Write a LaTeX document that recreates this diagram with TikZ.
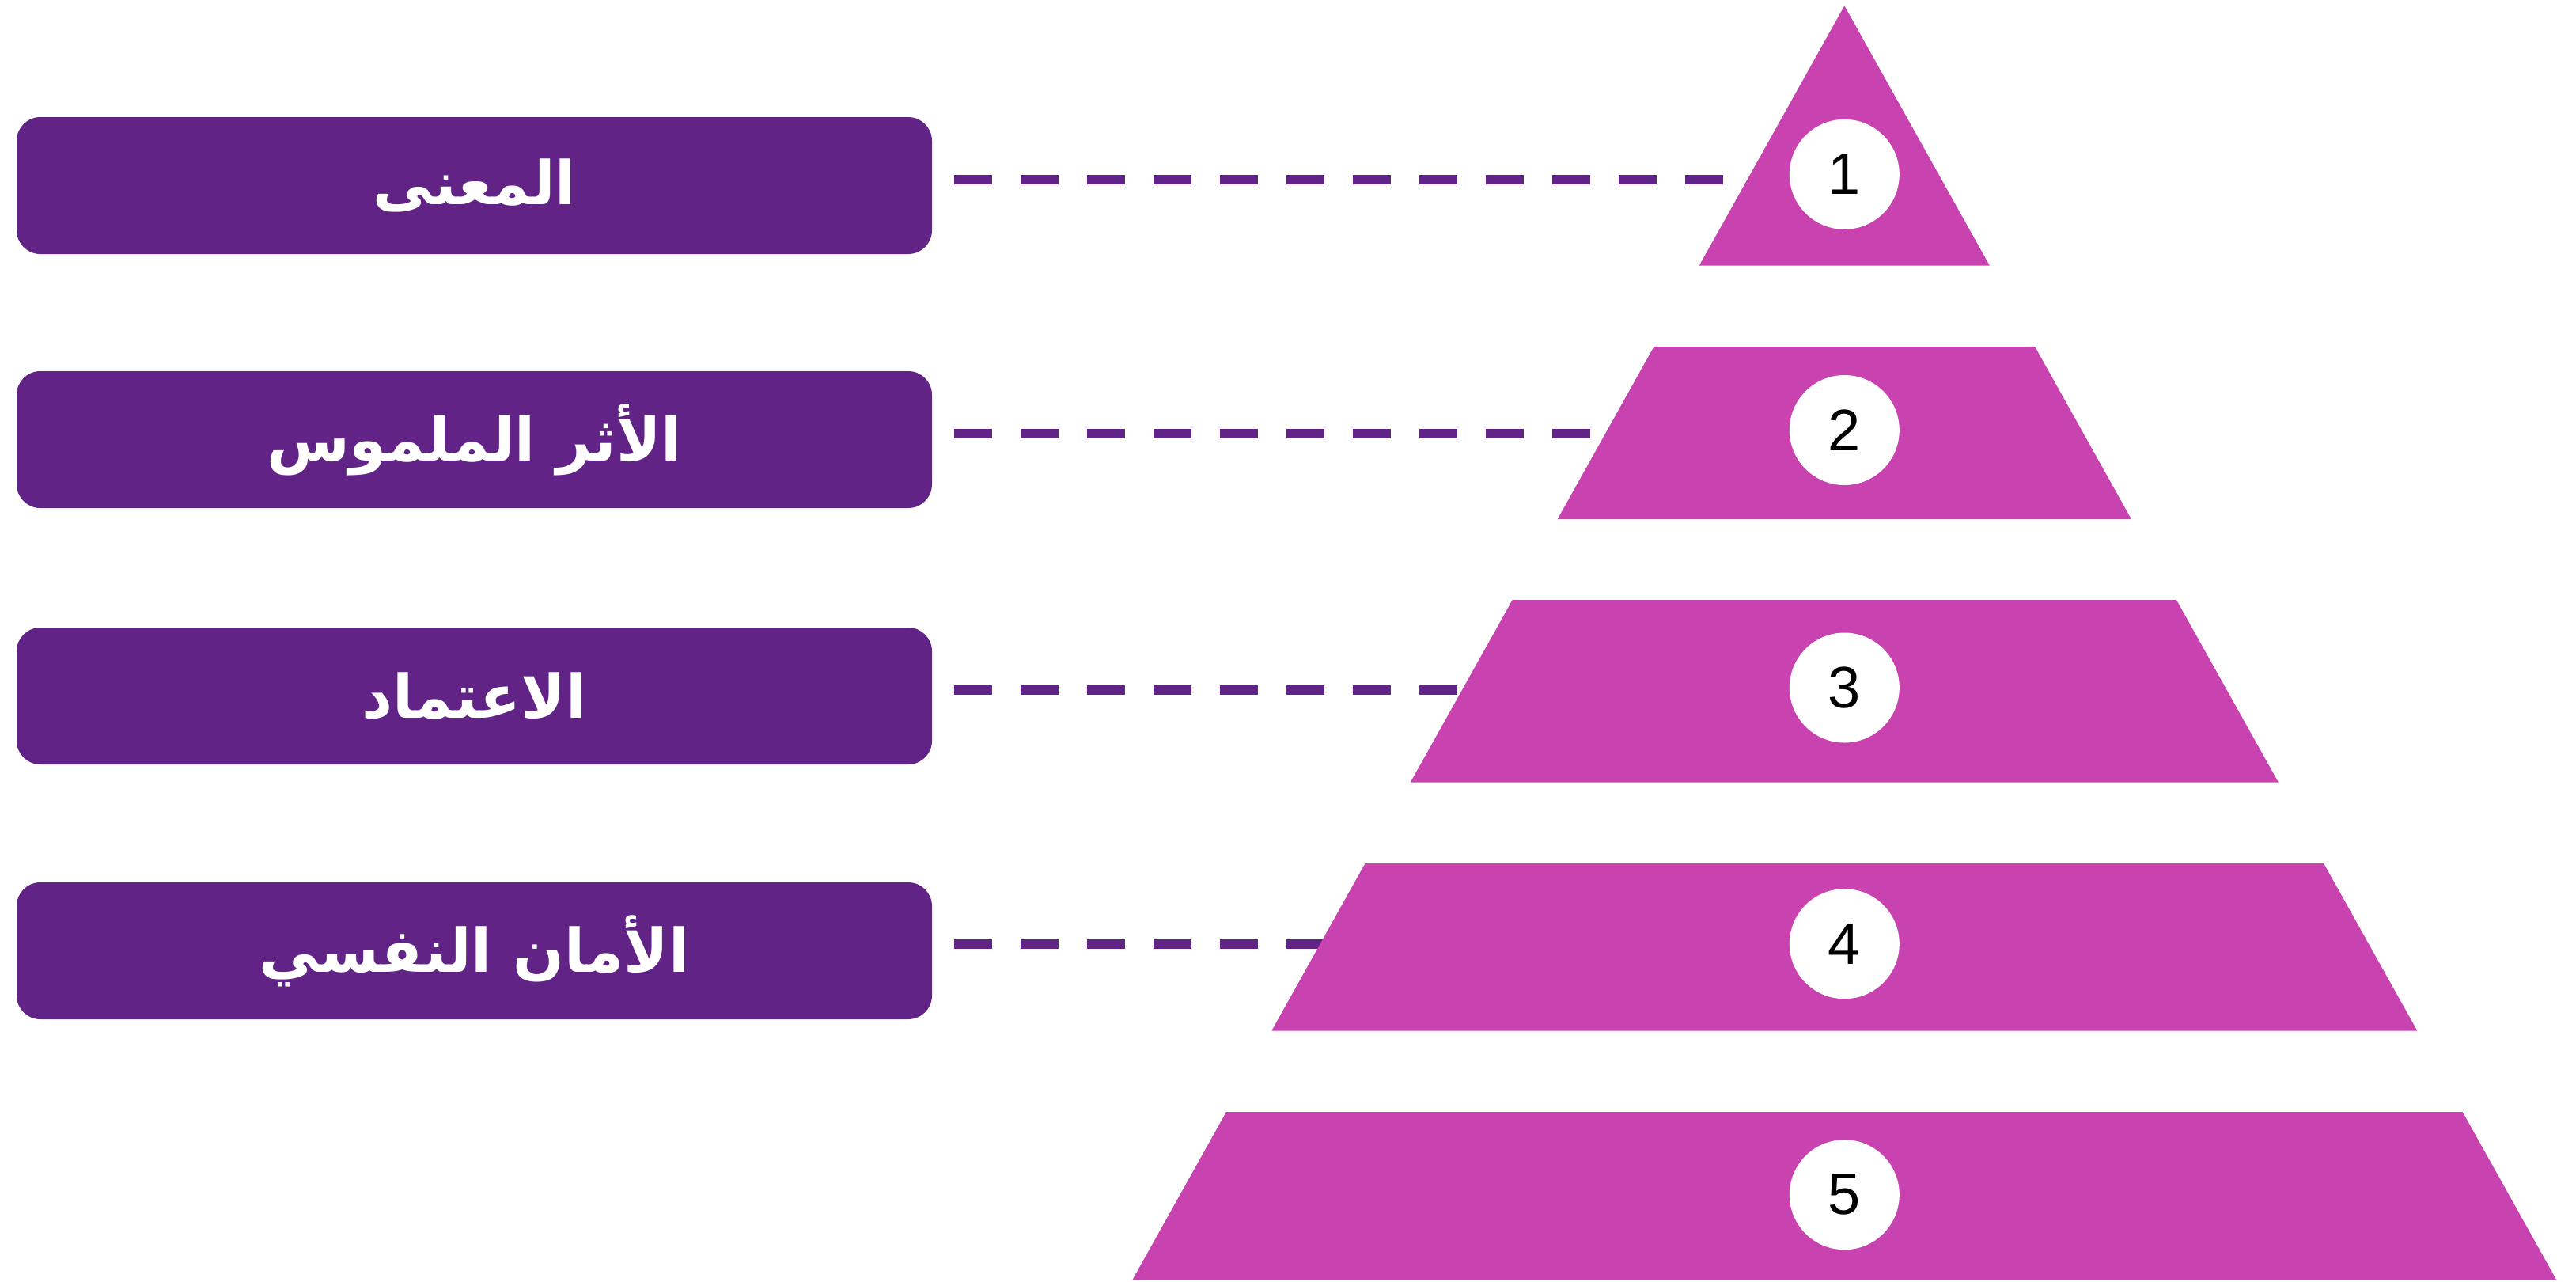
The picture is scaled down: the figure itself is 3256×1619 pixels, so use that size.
\documentclass[tikz,border=0pt]{standalone}
\usepackage{fontspec}
\setmainfont{Liberation Sans}
\newfontfamily\arabicfont[Script=Arabic]{DejaVu Sans}
\TeXXeTstate=1
\definecolor{boxpurple}{RGB}{98,35,135}
\definecolor{pyrpink}{RGB}{200,67,176}
\begin{document}
\begin{tikzpicture}[x=0.5pt,y=-0.5pt,
  labelbox/.style={rectangle, rounded corners=15pt, fill=boxpurple,
    minimum width=578.5pt, minimum height=86.5pt, inner sep=0pt, text=white,
    font=\arabicfont\bfseries\fontsize{38pt}{46pt}\selectfont},
  numcircle/.style={circle, fill=white, minimum size=69.5pt, inner sep=0pt,
    font=\fontsize{37pt}{44pt}\selectfont},
  layer/.style={fill=pyrpink},
  link/.style={draw=boxpurple, line width=6pt, dash pattern=on 24pt off 18pt}]
\useasboundingbox (0,0) rectangle (3256,1619);

% label boxes
\node[labelbox] (b1) at (599.5,234.5) {\beginR المعنى\endR};
\node[labelbox] (b2) at (599.5,555.5) {\beginR الأثر الملموس\endR};
\node[labelbox] (b3) at (599.5,879.5) {\beginR الاعتماد\endR};
\node[labelbox] (b4) at (599.5,1201.5) {\beginR الأمان النفسي\endR};

% dashed connectors (run beneath the pyramid)
\coordinate (s1) at (1206,227);
\coordinate (s2) at (1206,548);
\coordinate (s3) at (1206,872);
\coordinate (s4) at (1206,1193);
\coordinate (e1) at (2331.3,227);
\coordinate (e2) at (2331.3,548);
\coordinate (e3) at (2331.3,872);
\coordinate (e4) at (2331.3,1193);
\draw[link] (s1) -- (e1);
\draw[link] (s2) -- (e2);
\draw[link] (s3) -- (e3);
\draw[link] (s4) -- (e4);

% pyramid layers
\path[layer] (2331.3,7.3) -- (2514.9,335.7) -- (2147.7,335.7) -- cycle;
\path[layer] (2090.5,438) -- (2572.1,438) -- (2693.9,656) -- (1968.7,656) -- cycle;
\path[layer] (1911.7,758) -- (2750.9,758) -- (2879.9,988.7) -- (1782.7,988.7) -- cycle;
\path[layer] (1725.5,1091) -- (2937.1,1091) -- (3055.4,1302.7) -- (1607.2,1302.7) -- cycle;
\path[layer] (1550.0,1405) -- (3112.6,1405) -- (3231.1,1617) -- (1431.5,1617) -- cycle;

% number circles
\node[numcircle] (n1) at (2331.3,220.3) {1};
\node[numcircle] (n2) at (2331.3,543.5) {2};
\node[numcircle] (n3) at (2331.3,869) {3};
\node[numcircle] (n4) at (2331.3,1192.7) {4};
\node[numcircle] (n5) at (2331.3,1509.7) {5};
\end{tikzpicture}
\end{document}
